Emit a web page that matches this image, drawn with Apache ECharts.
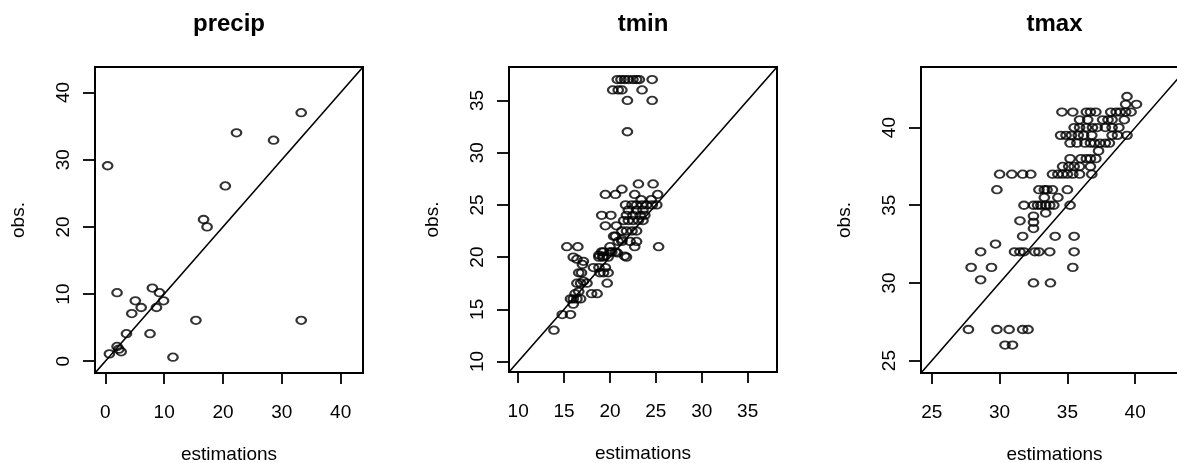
<!DOCTYPE html>
<html>
<head>
<meta charset="utf-8">
<script src="https://cdn.jsdelivr.net/npm/echarts@6/dist/echarts.min.js"></script>
<style>
  html, body { margin: 0; padding: 0; background: #fff; }
  #main { width: 1177px; height: 463px; }
</style>
</head>
<body>
<div id="main"></div>
<script>
// [estimation, observation]
const precipPoints = [
  [0.4, 29.1], [33.3, 37.0], [22.3, 34.0], [28.6, 32.9], [20.4, 26.1],
  [16.7, 21.1], [17.3, 20.0], [2.0, 10.2], [8.0, 10.9], [9.2, 10.2],
  [5.1, 9.0], [9.9, 9.0], [6.1, 8.0], [8.7, 8.0], [4.5, 7.1],
  [15.4, 6.1], [33.3, 6.1], [3.6, 4.1], [7.6, 4.1], [11.5, 0.6],
  [0.7, 1.1], [2.0, 2.2], [2.7, 1.4], [2.3, 1.8]
];

const tminPoints = [
  [20.8, 37], [21.2, 37], [21.6, 37], [22.0, 37], [22.5, 37], [22.9, 37], [23.2, 37], [24.6, 37],
  [20.3, 36], [20.9, 36], [21.3, 36], [23.5, 36],
  [21.9, 35], [24.6, 35], [21.9, 32],
  [23.1, 27], [24.7, 27], [21.3, 26.5],
  [19.5, 26], [20.6, 26], [22.7, 26], [25.2, 26],
  [23.4, 25.5], [24.5, 25.5],
  [21.7, 25], [22.4, 25], [22.9, 25], [23.5, 25], [24.0, 25], [24.6, 25], [25.1, 25],
  [22.0, 24.5], [22.9, 24.5], [23.6, 24.5],
  [19.1, 24], [20.1, 24], [21.8, 24], [22.5, 24], [23.3, 24], [23.8, 24],
  [21.5, 23.5], [22.0, 23.5], [22.5, 23.5], [23.1, 23.5], [23.6, 23.5],
  [19.5, 23], [20.7, 23],
  [21.3, 22.5], [21.8, 22.5], [22.4, 22.5], [22.9, 22.5],
  [20.4, 22], [20.6, 22], [21.3, 21.7], [22.2, 21.5], [22.9, 21.5],
  [20.9, 21.5], [21.3, 21.5], [22.7, 21], [25.3, 21],
  [20.0, 21], [20.2, 20.5], [20.6, 20.5], [21.8, 20], [20.8, 20.4], [21.6, 20.1],
  [19.1, 20.5], [18.8, 20.2], [19.3, 20.1], [20.0, 20.5],
  [15.3, 21], [16.5, 21],
  [16.0, 20], [18.8, 20], [19.3, 20.5], [19.8, 20], [19.2, 20],
  [16.4, 19.8], [17.1, 19.6], [17.0, 19.3],
  [18.2, 19], [18.8, 19], [19.5, 19], [19.8, 18.5], [19.3, 18.5], [18.9, 18.5],
  [16.6, 18.5], [16.9, 18.5],
  [16.4, 17.5], [16.8, 17.5], [17.5, 17.5], [19.7, 17.5], [17.1, 17.7],
  [18.0, 16.5], [18.6, 16.5], [16.2, 16.5], [16.6, 16.7], [16.8, 16],
  [15.7, 16], [16.0, 16], [16.4, 16], [16.0, 15.5],
  [14.8, 14.5], [15.7, 14.5],
  [13.9, 13]
];

const tmaxPoints = [
  [39.4, 42], [39.3, 41.5], [40.1, 41.5],
  [34.6, 41], [35.4, 41], [36.4, 41], [36.7, 41], [37.1, 41], [38.2, 41], [38.6, 41], [38.9, 41], [39.3, 41], [39.7, 41],
  [35.9, 40.5], [36.5, 40.5], [37.6, 40.5], [38.0, 40.5], [38.3, 40.5], [39.2, 40.5],
  [35.5, 40], [35.9, 40], [36.4, 40], [36.85, 40], [37.2, 40], [37.8, 40], [38.3, 40], [38.8, 40],
  [34.5, 39.5], [34.9, 39.5], [35.3, 39.5], [35.8, 39.5], [36.2, 39.5], [36.8, 39.5], [38.3, 39.5], [38.7, 39.5], [39.4, 39.5],
  [35.2, 39], [35.7, 39], [36.3, 39], [36.7, 39], [37.0, 39], [37.4, 39], [37.8, 39], [38.1, 39],
  [37.3, 38.5],
  [35.2, 38], [36.0, 38], [36.4, 38], [36.7, 38], [37.1, 38],
  [34.65, 37.5], [35.1, 37.5], [35.5, 37.5], [35.9, 37.5], [36.7, 37.5],
  [30.0, 37], [30.9, 37], [31.7, 37], [32.3, 37], [33.9, 37], [34.3, 37], [34.65, 37], [35.0, 37], [35.4, 37], [35.9, 37], [36.8, 37],
  [29.8, 36], [32.9, 36], [33.3, 36], [33.5, 36], [33.9, 36], [35.0, 36],
  [33.3, 35.5], [34.3, 35.5],
  [31.8, 35], [32.5, 35], [32.8, 35], [33.05, 35], [33.4, 35], [33.7, 35], [34.0, 35], [35.2, 35],
  [33.4, 34.5], [32.5, 34.3], [32.5, 33.9], [32.5, 33.5], [31.5, 34],
  [31.7, 33], [34.1, 33], [35.5, 33],
  [29.7, 32.5],
  [28.6, 32], [31.1, 32], [31.5, 32], [31.8, 32], [32.6, 32], [32.9, 32], [33.7, 32], [35.5, 32],
  [27.9, 31], [29.4, 31], [35.4, 31],
  [28.6, 30.2], [32.5, 30], [33.75, 30],
  [27.7, 27], [29.8, 27], [30.7, 27], [31.7, 27], [32.1, 27],
  [30.4, 26], [30.95, 26]
];

const panelNames = ["precip", "tmin", "tmax"];
const panelPoints = [precipPoints, tminPoints, tmaxPoints];
// same limits on both axes
const panelLimits = [[-1.75, 43.8], [9.0, 38.2], [24.2, 43.9]];
const panelTicks = [[0, 10, 20, 30, 40], [10, 15, 20, 25, 30, 35], [25, 30, 35, 40]];

const font = "'Liberation Sans', Arial, sans-serif";

// tmax box runs past the right edge of the page, as in the original
const boxes = [
  { left: 95, top: 67, width: 268, height: 306 },
  { left: 509, top: 67, width: 268, height: 305 },
  { left: 921, top: 67, width: 267, height: 306 }
];

function makeAxis(i, isX) {
  return {
    type: "value",
    gridIndex: i,
    min: panelLimits[i][0],
    max: panelLimits[i][1],
    name: isX ? "estimations" : "obs.",
    nameLocation: "middle",
    nameGap: isX ? 72 : 67,
    nameTextStyle: { fontFamily: font, fontSize: 19, color: "#000" },
    splitLine: { show: false },
    axisLine: { show: false, onZero: false },
    axisTick: {
      show: true,
      length: isX ? 11 : 12,
      customValues: panelTicks[i],
      lineStyle: { color: "#000", width: 1.8 }
    },
    axisLabel: {
      customValues: panelTicks[i],
      margin: isX ? 30 : 22,
      rotate: isX ? 0 : 90,
      fontFamily: font,
      fontSize: 19,
      color: "#000"
    }
  };
}

let myChart = echarts.init(document.getElementById("main"));
let option = {
  animation: false,
  backgroundColor: "#fff",
  title: panelNames.map((name, i) => ({
    text: name,
    left: boxes[i].left + boxes[i].width / 2,
    top: 12,
    padding: 0,
    textAlign: "center",
    textStyle: { fontFamily: font, fontSize: 24, fontWeight: "bold", color: "#000" }
  })),
  grid: boxes.map(b => ({
    left: b.left,
    top: b.top,
    width: b.width,
    height: b.height,
    containLabel: false,
    outerBoundsMode: "none",
    show: true,
    borderColor: "#000",
    borderWidth: 2,
    backgroundColor: "transparent"
  })),
  xAxis: panelNames.map((n, i) => makeAxis(i, true)),
  yAxis: panelNames.map((n, i) => makeAxis(i, false)),
  series: []
};

panelNames.forEach((name, i) => {
  option.series.push({
    name: name,
    type: "scatter",
    xAxisIndex: i,
    yAxisIndex: i,
    symbol: "circle",
    symbolSize: [9.5, 7.5],
    itemStyle: { color: "rgba(0,0,0,0)", borderColor: "#000", borderWidth: 2 },
    data: panelPoints[i]
  });
  // 1:1 line
  option.series.push({
    type: "line",
    xAxisIndex: i,
    yAxisIndex: i,
    symbol: "none",
    silent: true,
    lineStyle: { color: "#000", width: 1.6 },
    data: [[panelLimits[i][0], panelLimits[i][0]], [panelLimits[i][1], panelLimits[i][1]]]
  });
});

myChart.setOption(option);
</script>
</body>
</html>
